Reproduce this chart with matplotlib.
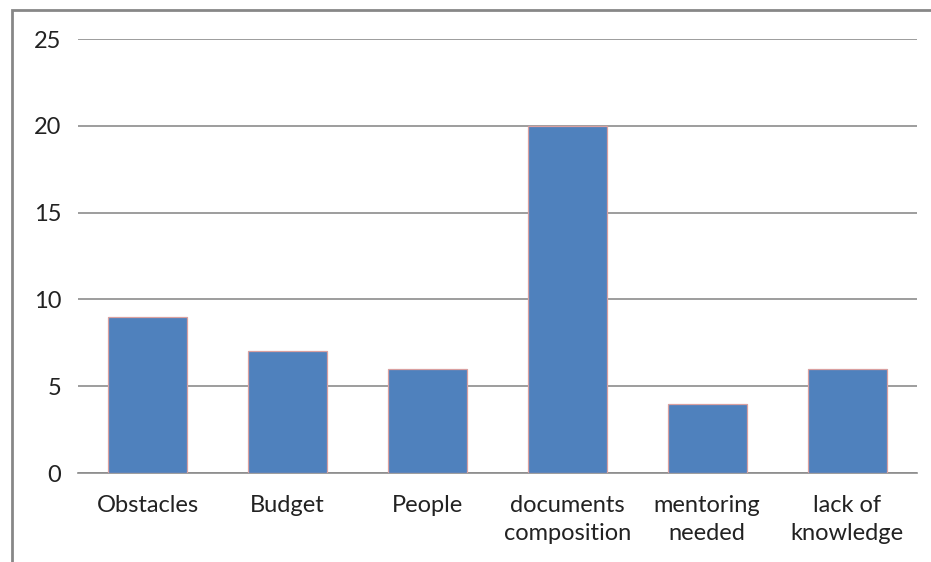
import matplotlib.pyplot as plt
import numpy as np
from matplotlib.patches import Rectangle

# Data
categories = ["Obstacles", "Budget", "People", "documents\ncomposition",
              "mentoring\nneeded", "lack of\nknowledge"]
values = [9, 7, 6, 20, 4, 6]
y_ticks = [0, 5, 10, 15, 20, 25]

plt.rcParams["font.family"] = ["Lato", "DejaVu Sans"]

W, H = 931, 562
fig = plt.figure(figsize=(W / 100, H / 100), dpi=100)

# outer chart border (only top and left edges visible in the crop)
fig.patches.append(Rectangle((12 / W, -0.1), 1.2, 1 - 10 / H + 0.1,
                             transform=fig.transFigure, fill=False,
                             edgecolor="#878787", linewidth=2))

ax = fig.add_axes([78 / W, (H - 473) / H, (917 - 78) / W, (473 - 39) / H])

x = np.arange(len(categories))
ax.bar(x, values, width=0.565, color="#4F81BD", edgecolor="#D9A0A0",
       linewidth=0.9, zorder=3)

ax.set_xlim(-0.5, len(categories) - 0.5)
ax.set_ylim(0, 25)
ax.set_yticks(y_ticks)
ax.set_xticks(x)
ax.set_xticklabels(categories, linespacing=1.42)
ax.grid(axis="y", color="#8C8C8C", linewidth=1.2, zorder=0)
ax.set_axisbelow(True)

for s in ["top", "right", "left"]:
    ax.spines[s].set_visible(False)
ax.spines["bottom"].set_color("#8C8C8C")
ax.spines["bottom"].set_linewidth(1.2)

ax.tick_params(axis="both", length=0, labelsize=17, colors="#222222")
ax.tick_params(axis="y", pad=12)
ax.tick_params(axis="x", pad=16)

plt.savefig("out.png", dpi=100)
